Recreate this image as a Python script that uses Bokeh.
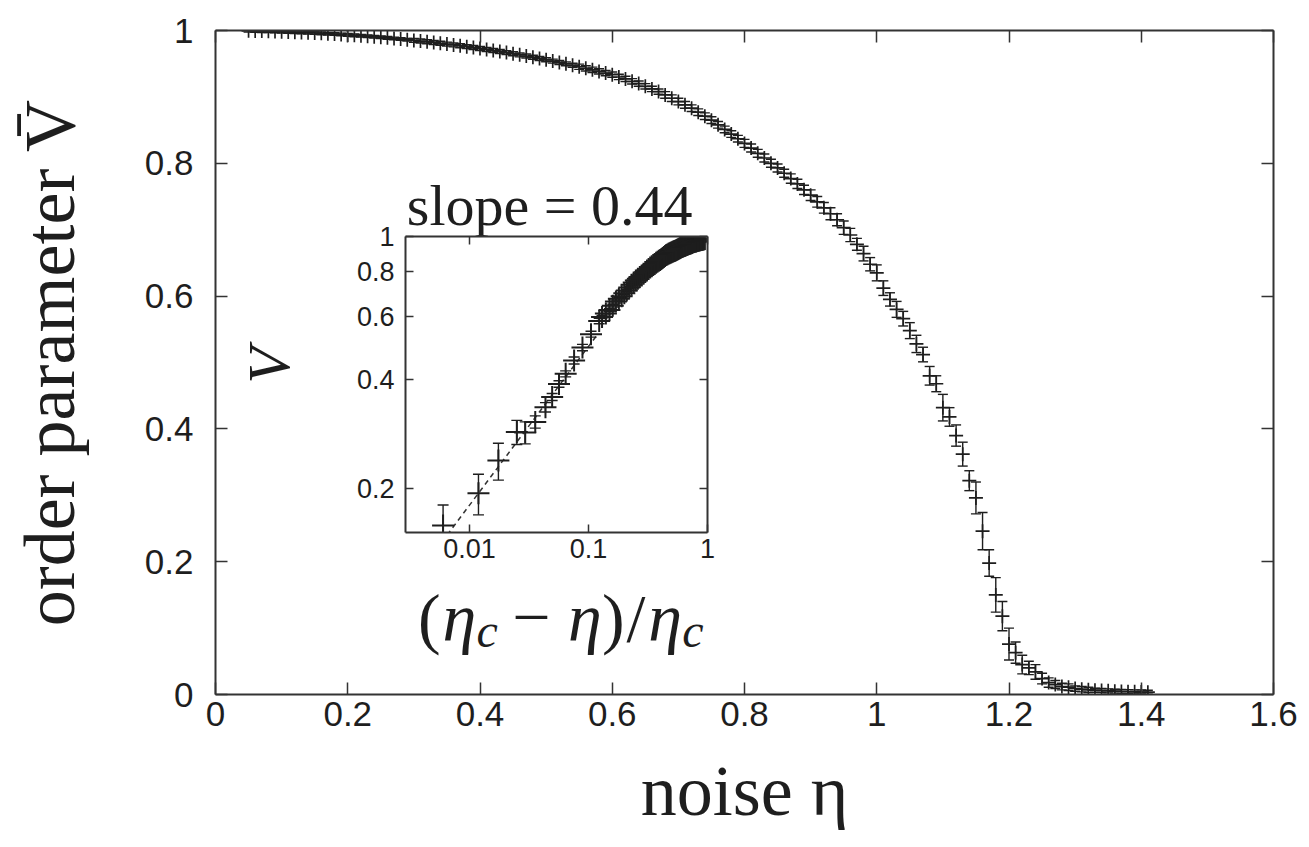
import math
from bokeh.plotting import figure
from bokeh.models import (FixedTicker, CustomJSTickFormatter, Label, LinearAxis, LogAxis,
                          ColumnDataSource, CustomLabelingPolicy)
from bokeh.embed import file_html
from bokeh.resources import INLINE

# ---------------- data: main panel ----------------
eta = [0.05, 0.06, 0.07, 0.08, 0.09, 0.10, 0.11, 0.12, 0.13, 0.14,
       0.15, 0.16, 0.17, 0.18, 0.19, 0.20, 0.21, 0.22, 0.23, 0.24,
       0.25, 0.26, 0.27, 0.28, 0.29, 0.30, 0.31, 0.32, 0.33, 0.34,
       0.35, 0.36, 0.37, 0.38, 0.39, 0.40, 0.41, 0.42, 0.43, 0.44,
       0.45, 0.46, 0.47, 0.48, 0.49, 0.50, 0.51, 0.52, 0.53, 0.54,
       0.55, 0.56, 0.57, 0.58, 0.59, 0.60, 0.61, 0.62, 0.63, 0.64,
       0.65, 0.66, 0.67, 0.68, 0.69, 0.70, 0.71, 0.72, 0.73, 0.74,
       0.75, 0.76, 0.77, 0.78, 0.79, 0.80, 0.81, 0.82, 0.83, 0.84,
       0.85, 0.86, 0.87, 0.88, 0.89, 0.90, 0.91, 0.92, 0.93, 0.94,
       0.95, 0.96, 0.97, 0.98, 0.99, 1.00, 1.01, 1.02, 1.03, 1.04,
       1.05, 1.06, 1.07, 1.08, 1.09, 1.10, 1.11, 1.12, 1.13, 1.14,
       1.15, 1.16, 1.17, 1.18, 1.19, 1.20, 1.21, 1.22, 1.23, 1.24,
       1.25, 1.26, 1.27, 1.28, 1.29, 1.30, 1.31, 1.32, 1.33, 1.34,
       1.35, 1.36, 1.37, 1.38, 1.39, 1.40, 1.41]

order_v = [.9995, .9993, .9991, .9989, .9986, .9983, .9979, .9975, .9971, .9967,
           .9962, .9957, .9952, .9946, .9940, .9934, .9927, .9920, .9913, .9905,
           .9897, .9889, .9880, .9871, .9861, .9851, .9841, .9830, .9819, .9807,
           .9795, .9783, .9770, .9757, .9743, .9729, .9714, .9699, .9683, .9667,
           .9650, .9633, .9615, .9597, .9578, .9559, .9539, .9519, .9498, .9476,
           .9454, .9431, .9408, .9384, .9359, .9334, .9300, .9270, .9235, .9200,
           .9160, .9120, .9080, .9030, .8980, .8930, .8880, .8830, .8770, .8710,
           .8650, .8580, .8510, .8440, .8370, .8300, .8230, .8150, .8080, .8000,
           .7930, .7850, .7770, .7690, .7600, .7520, .7420, .7330, .7240, .7150,
           .7030, .6920, .6780, .6640, .6480, .6350, .6120, .5950, .5800, .5660,
           .5480, .5280, .5120, .4800, .4680, .4320, .4180, .3900, .3620, .3220,
           .2960, .2460, .1980, .1500, .1180, .0760, .0630, .0450, .0400, .0340,
           .0240, .0180, .0150, .0120, .0110, .0090, .0080, .0070, .0065, .0060,
           .0055, .0050, .0047, .0043, .0040, .0037, .0035]

order_err = [.002, .002, .002, .002, .002, .002, .002, .002, .002, .002,
             .002, .002, .002, .002, .002, .002, .002, .002, .002, .002,
             .002, .002, .002, .002, .002, .003, .003, .003, .003, .003,
             .003, .003, .003, .003, .003, .003, .003, .003, .003, .003,
             .003, .003, .003, .003, .003, .003, .003, .003, .003, .003,
             .004, .004, .004, .004, .004, .004, .004, .004, .004, .004,
             .004, .004, .004, .005, .005, .005, .005, .005, .005, .005,
             .005, .005, .005, .005, .005, .006, .006, .006, .006, .006,
             .006, .006, .007, .007, .007, .008, .008, .008, .009, .009,
             .010, .010, .009, .011, .010, .012, .011, .010, .012, .011,
             .012, .013, .011, .014, .012, .020, .014, .016, .018, .015,
             .024, .028, .020, .026, .022, .024, .016, .014, .010, .011,
             .008, .007, .006, .005, .005, .004, .004, .004, .003, .003,
             .003, .003, .003, .003, .003, .003, .003]

# ---------------- data: inset (log-log) ----------------
inset_x = [0.0060, 0.0119, 0.0175, 0.0250, 0.0294, 0.0357, 0.0435, 0.0495, 0.0565, 0.0643,
           0.0757, 0.089, 0.105, 0.123,
           0.13, 0.14, 0.15, 0.16, 0.17, 0.18, 0.19, 0.20, 0.21, 0.22,
           0.23, 0.24, 0.25, 0.26, 0.27, 0.28, 0.29, 0.30, 0.31, 0.32,
           0.33, 0.34, 0.35, 0.36, 0.37, 0.38, 0.39, 0.40, 0.41, 0.42,
           0.43, 0.44, 0.45, 0.46, 0.47, 0.48, 0.49, 0.50, 0.51, 0.52,
           0.53, 0.54, 0.55, 0.56, 0.57, 0.58, 0.59, 0.60, 0.61, 0.62,
           0.63, 0.64, 0.65, 0.66, 0.67, 0.68, 0.69, 0.70, 0.71, 0.72,
           0.73, 0.74, 0.75, 0.76, 0.77, 0.78, 0.79, 0.80, 0.81, 0.82,
           0.83, 0.84, 0.85, 0.86, 0.87, 0.88, 0.89, 0.90, 0.91, 0.92,
           0.93, 0.94, 0.95]
inset_v = [0.158, 0.194, 0.239, 0.287, 0.286, 0.306, 0.336, 0.359, 0.390, 0.416,
           0.453, 0.492, 0.536, 0.583,
           0.598, 0.612, 0.625, 0.643, 0.660, 0.672, 0.683, 0.696, 0.708, 0.722,
           0.735, 0.745, 0.755, 0.764, 0.772, 0.780, 0.788, 0.797, 0.805, 0.813,
           0.820, 0.827, 0.833, 0.839, 0.845, 0.851, 0.856, 0.861, 0.866, 0.872,
           0.877, 0.883, 0.888, 0.892, 0.895, 0.898, 0.901, 0.904, 0.907, 0.910,
           0.912, 0.915, 0.918, 0.921, 0.923, 0.926, 0.929, 0.932, 0.935, 0.937,
           0.939, 0.941, 0.943, 0.945, 0.947, 0.949, 0.951, 0.953, 0.955, 0.957,
           0.958, 0.960, 0.962, 0.964, 0.965, 0.967, 0.968, 0.969, 0.970, 0.972,
           0.973, 0.974, 0.975, 0.976, 0.977, 0.978, 0.979, 0.980, 0.981, 0.981,
           0.982, 0.983, 0.984]
inset_err = [0.022, 0.025, 0.028, 0.022, 0.020, 0.012, 0.010, 0.008, 0.008, 0.008,
             0.010, 0.010, 0.010, 0.010,
             0.006, 0.006, 0.006, 0.006, 0.006, 0.006, 0.006, 0.006, 0.005, 0.005,
             0.005, 0.005, 0.005, 0.005, 0.005, 0.005, 0.005, 0.005, 0.005, 0.005,
             0.005, 0.005, 0.005, 0.004, 0.004, 0.004, 0.004, 0.004, 0.004, 0.004,
             0.004, 0.004, 0.004, 0.004, 0.004, 0.004, 0.004, 0.004, 0.003, 0.003,
             0.003, 0.003, 0.003, 0.003, 0.003, 0.003, 0.003, 0.003, 0.003, 0.003,
             0.003, 0.003, 0.003, 0.003, 0.003, 0.003, 0.003, 0.003, 0.003, 0.003,
             0.003, 0.003, 0.003, 0.003, 0.003, 0.003, 0.003, 0.003, 0.003, 0.003,
             0.003, 0.003, 0.003, 0.003, 0.003, 0.003, 0.003, 0.003, 0.003, 0.003,
             0.003, 0.003, 0.003]
fit_x = [0.0065, 0.12]          # power-law guide, slope 0.44
fit_v = [0.1487, 0.537]

main_xticks = [0, 0.2, 0.4, 0.6, 0.8, 1.0, 1.2, 1.4, 1.6]
main_yticks = [0, 0.2, 0.4, 0.6, 0.8, 1.0]
inset_xticks = [0.01, 0.1, 1.0]
inset_yticks = [0.2, 0.4, 0.6, 0.8, 1.0]

INK = "#1e1e1e"
AX = "#333333"
SERIF = "Liberation Serif"
SANS = "Liberation Sans"
fmt = CustomJSTickFormatter(code="return Number(tick.toFixed(3)).toString();")
no_labels = CustomLabelingPolicy(code="""
    for (const i of indices) { indices.unset(i) }
    return indices
""")


def style_axis(ax, ticks, show_labels, tick_len, label_size, standoff):
    ax.ticker = FixedTicker(ticks=ticks)
    ax.formatter = fmt
    ax.axis_line_color = AX
    ax.axis_line_width = 2
    ax.major_tick_line_color = AX
    ax.major_tick_line_width = 1.5
    ax.major_tick_in = tick_len
    ax.major_tick_out = 0
    ax.minor_tick_line_color = None
    ax.major_label_text_font = SANS
    ax.major_label_text_color = INK
    if show_labels:
        ax.major_label_text_font_size = label_size
        ax.major_label_standoff = standoff
    else:
        ax.major_label_text_font_size = "2px"
        ax.major_label_standoff = 0
        ax.major_label_policy = no_labels


# ---------------- main figure (page frame: x 215..1273, y 30..694) ----------------
p = figure(width=1301, height=847, x_range=(0, 1.6), y_range=(0, 1),
           output_backend="svg", toolbar_location=None,
           min_border_left=215, min_border_right=28, min_border_top=30, min_border_bottom=153)
p.grid.visible = False
p.outline_line_color = None
p.background_fill_color = "white"
p.border_fill_color = "white"

style_axis(p.xaxis[0], main_xticks, True, 12, "35px", 7)
style_axis(p.yaxis[0], main_yticks, True, 12, "35px", 22)
p.xaxis[0].axis_label = "noise η"
p.yaxis[0].axis_label = "order parameter V\u0304"
for ax in (p.xaxis[0], p.yaxis[0]):
    ax.axis_label_text_font = SERIF
    ax.axis_label_text_font_size = "72px"
    ax.axis_label_text_font_style = "normal"
    ax.axis_label_text_color = INK
p.xaxis[0].axis_label_standoff = 22
p.yaxis[0].axis_label_standoff = 52

top_ax = LinearAxis()
right_ax = LinearAxis()
style_axis(top_ax, main_xticks, False, 12, "0px", 0)
style_axis(right_ax, main_yticks, False, 12, "0px", 0)
p.add_layout(top_ax, "above")
p.add_layout(right_ax, "right")

src = ColumnDataSource(dict(x=eta, y=order_v,
                            lo=[v - e for v, e in zip(order_v, order_err)],
                            hi=[v + e for v, e in zip(order_v, order_err)]))
p.segment(x0="x", y0="lo", x1="x", y1="hi", source=src, line_color=INK, line_width=1.4)
p.scatter(x="x", y="lo", source=src, marker="dash", size=10, line_color=INK, line_width=1.4)
p.scatter(x="x", y="hi", source=src, marker="dash", size=10, line_color=INK, line_width=1.4)
p.scatter(x="x", y="y", source=src, marker="cross", size=14, line_color=INK, line_width=1.7)


def dx(px):
    return (px - 215) / 661.0


def dy(py):
    return (694 - py) / 664.0


p.add_layout(Label(x=dx(549), y=dy(205), text="slope = 0.44", text_font=SERIF,
                   text_font_size="58px", text_color=INK, text_align="center",
                   text_baseline="alphabetic"))
p.add_layout(Label(x=dx(268), y=dy(365), text="V", text_font=SERIF, text_font_style="italic",
                   text_font_size="60px", text_color=INK, text_align="center",
                   text_baseline="middle", angle=math.pi / 2))

# inset x-axis label "(η_c − η)/η_c", built from pieces: (text, style, scale, advance_em, drop_px)
fs = 68
pieces = [("(", "normal", 1.0, 0.36, 0), ("η", "italic", 1.0, 0.50, 0),
          ("c", "italic", 0.7, 0.75, 13), ("−", "normal", 1.0, 0.82, 0),
          ("η", "italic", 1.0, 0.50, 0), (")", "normal", 1.0, 0.36, 0),
          ("/", "normal", 1.0, 0.32, 0), ("η", "italic", 1.0, 0.50, 0),
          ("c", "italic", 0.7, 0.44, 13)]
total = sum(adv * sc * fs for _, _, sc, adv, _ in pieces)
cur = 560 - total / 2
base = 617
for txt, st, sc, adv, drop in pieces:
    p.add_layout(Label(x=dx(cur), y=dy(base + drop), text=txt, text_font=SERIF,
                       text_font_style=st, text_font_size=f"{fs * sc:.0f}px",
                       text_color=INK, text_align="left", text_baseline="alphabetic"))
    cur += adv * sc * fs

# ---------------- inset figure (page frame: x 405..707, y 236..532) ----------------
ins = figure(width=382, height=366, x_axis_type="log", y_axis_type="log",
             x_range=(0.0029, 1.0), y_range=(0.151, 1.0),
             output_backend="svg", toolbar_location=None,
             min_border_left=60, min_border_right=20, min_border_top=20, min_border_bottom=50,
             styles={"position": "absolute", "left": "345px", "top": "216px", "z-index": "2"})
ins.grid.visible = False
ins.outline_line_color = None
ins.background_fill_color = "white"
ins.border_fill_color = None

style_axis(ins.xaxis[0], inset_xticks, True, 8, "27px", 6)
style_axis(ins.yaxis[0], inset_yticks, True, 8, "27px", 11)
itop = LogAxis()
iright = LogAxis()
style_axis(itop, inset_xticks, False, 8, "0px", 0)
style_axis(iright, inset_yticks, False, 8, "0px", 0)
ins.add_layout(itop, "above")
ins.add_layout(iright, "right")

isrc = ColumnDataSource(dict(x=inset_x, y=inset_v,
                             lo=[v - e for v, e in zip(inset_v, inset_err)],
                             hi=[v + e for v, e in zip(inset_v, inset_err)]))
ins.line(x=fit_x, y=fit_v, line_color=AX, line_width=1.5, line_dash="5 4")
ins.segment(x0="x", y0="lo", x1="x", y1="hi", source=isrc, line_color=INK, line_width=1.4)
ins.scatter(x="x", y="lo", source=isrc, marker="dash", size=11, line_color=INK, line_width=1.4)
ins.scatter(x="x", y="hi", source=isrc, marker="dash", size=11, line_color=INK, line_width=1.4)
ins.scatter(x="x", y="y", source=isrc, marker="cross", size=22, line_color=INK, line_width=2.0)

open("out.html", "w").write(file_html([p, ins], INLINE))
